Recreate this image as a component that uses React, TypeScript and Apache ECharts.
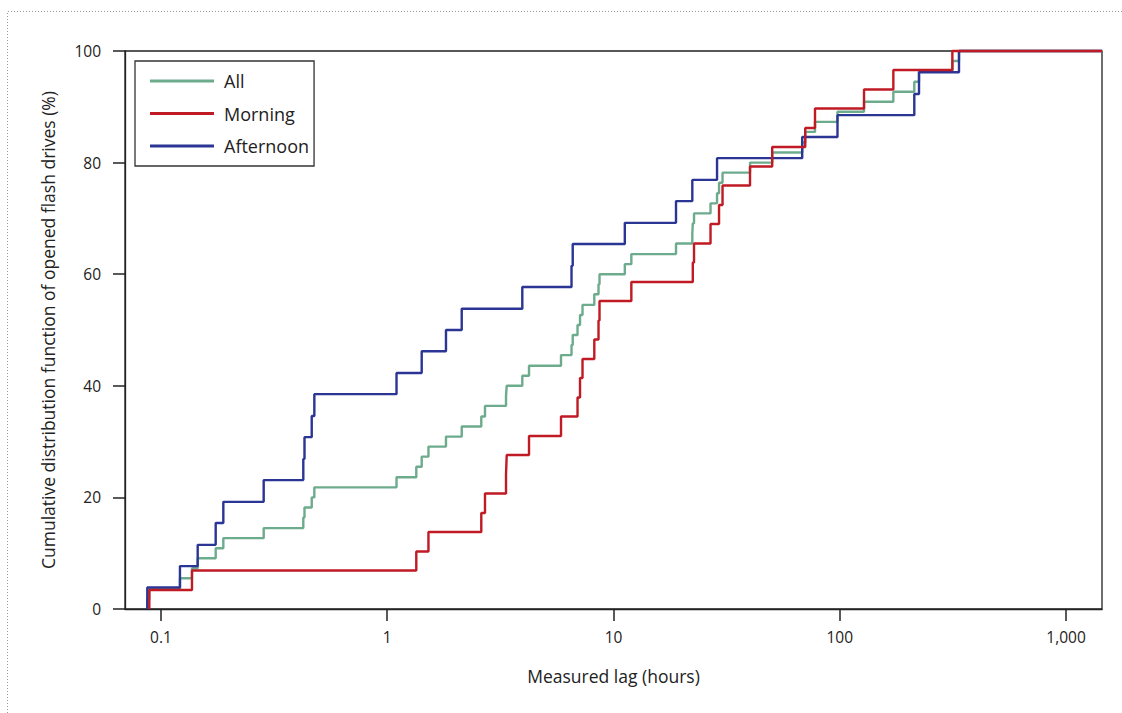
import React, { useEffect, useRef } from 'react';
import * as echarts from 'echarts';

// Axis ranges and ticks
const xMin = 0.06934;
const xMax = 1442;
const xTickValues = [0.1, 1, 10, 100, 1000];
const xTickLabels = ['0.1', '1', '10', '100', '1,000'];
const yTickValues = [0, 20, 40, 60, 80, 100];

const seriesNames = ['All', 'Morning', 'Afternoon'];

// Afternoon (blue): lag (hours) at each step and CDF (%) reached at that step
const afternoonX = [0.087, 0.1213, 0.1453, 0.1745, 0.1886, 0.2844, 0.4256, 0.4308, 0.4637, 0.4762, 1.099, 1.42, 1.818, 2.134, 3.953, 6.523, 6.603, 11.22, 18.89, 22.3, 28.68, 68.23, 97.7, 213.5, 224.0, 336.5];
const afternoonY = [3.85, 7.69, 11.5, 15.4, 19.2, 23.1, 26.9, 30.8, 34.6, 38.5, 42.3, 46.2, 50.0, 53.8, 57.7, 61.5, 65.4, 69.2, 73.1, 76.9, 80.8, 84.6, 88.5, 92.3, 96.2, 100];

// Morning (red)
const morningX = [0.0888, 0.1371, 1.344, 1.521, 2.604, 2.704, 3.349, 3.373, 4.232, 5.861, 6.934, 7.112, 7.295, 8.225, 8.585, 8.673, 11.99, 22.41, 22.69, 26.84, 29.27, 30.33, 40.12, 50.28, 70.37, 77.72, 128.0, 172.5, 314.5];
const morningY = [3.4, 6.9, 10.3, 13.8, 17.2, 20.7, 24.1, 27.6, 31.0, 34.5, 37.9, 41.4, 44.8, 48.3, 51.7, 55.2, 58.6, 62.1, 65.5, 69.0, 72.4, 75.9, 79.3, 82.8, 86.2, 89.7, 93.1, 96.6, 100];

// All (green)
const allX = [0.087, 0.0888, 0.1213, 0.1371, 0.1453, 0.1745, 0.1886, 0.2844, 0.4256, 0.4308, 0.4637, 0.4762, 1.099, 1.344, 1.42, 1.521, 1.818, 2.134, 2.604, 2.704, 3.349, 3.373, 3.953, 4.232, 5.861, 6.523, 6.603, 6.934, 7.112, 7.295, 8.225, 8.585, 8.673, 11.22, 11.99, 18.89, 22.3, 22.41, 22.69, 26.84, 28.68, 29.27, 30.33, 40.12, 50.28, 68.23, 70.37, 77.72, 97.7, 128.0, 172.5, 213.5, 224.0, 314.5, 336.5];
const allY = [1.8, 3.6, 5.5, 7.3, 9.1, 10.9, 12.7, 14.5, 16.4, 18.2, 20.0, 21.8, 23.6, 25.5, 27.3, 29.1, 30.9, 32.7, 34.5, 36.4, 38.2, 40.0, 41.8, 43.6, 45.5, 47.3, 49.1, 50.9, 52.7, 54.5, 56.4, 58.2, 60.0, 61.8, 63.6, 65.5, 67.3, 69.1, 70.9, 72.7, 74.5, 76.4, 78.2, 80.0, 81.8, 83.6, 85.5, 87.3, 89.1, 90.9, 92.7, 94.5, 96.4, 98.2, 100];

const colors = { All: '#6dab8d', Morning: '#c01a24', Afternoon: '#2b3594' };

function stepData(xs: number[], ys: number[]) {
  const pts: [number, number][] = [[xs[0], 0]];
  xs.forEach((x, i) => pts.push([x, ys[i]]));
  pts.push([xMax, ys[ys.length - 1]]);
  return pts;
}

const FONT = '"Open Sans", "DejaVu Sans", sans-serif';
const TEXT = '#222';

export default function App() {
  const ref = useRef<HTMLDivElement>(null);
  useEffect(() => {
    if (!ref.current) return;
    const chart = echarts.init(ref.current, null, { renderer: 'svg' });
    const mk = (name: string, xs: number[], ys: number[]) => ({
      name,
      type: 'line',
      step: 'end',
      showSymbol: false,
      symbol: 'none',
      data: stepData(xs, ys),
      lineStyle: { width: 2.4, color: (colors as any)[name] },
      itemStyle: { color: (colors as any)[name] },
      emphasis: { disabled: true },
      clip: false,
    });
    chart.setOption({
      animation: false,
      backgroundColor: '#ffffff',
      textStyle: { fontFamily: FONT },
      grid: {
        left: 125,
        right: 20,
        top: 51,
        bottom: 104,
        show: true,
        borderColor: '#222',
        borderWidth: 1.3,
        backgroundColor: 'transparent',
      },
      legend: {
        orient: 'vertical',
        left: 135,
        top: 61,
        data: seriesNames,
        icon: 'rect',
        itemWidth: 64,
        itemHeight: 3,
        itemGap: 12.5,
        padding: [10, 5, 10, 15],
        borderColor: '#333',
        borderWidth: 1.3,
        textStyle: { fontFamily: FONT, fontSize: 18, color: TEXT, lineHeight: 20, padding: [0, 0, 0, 5] },
      },
      xAxis: {
        type: 'log',
        logBase: 10,
        min: xMin,
        max: xMax,
        name: 'Measured lag (hours)',
        nameLocation: 'middle',
        nameGap: 58,
        nameTextStyle: { fontFamily: FONT, fontSize: 17.5, color: TEXT },
        axisLine: { show: true, lineStyle: { color: '#222', width: 1.3 } },
        axisTick: { show: true, length: 12, lineStyle: { color: '#222', width: 1.5 }, customValues: xTickValues },
        axisLabel: {
          customValues: xTickValues,
          margin: 20,
          fontFamily: FONT,
          fontSize: 15.5,
          color: TEXT,
          formatter: (v: number) => {
            const i = xTickValues.findIndex((t) => Math.abs(t - v) / t < 1e-6);
            return i >= 0 ? xTickLabels[i] : '';
          },
        },
        splitLine: { show: false },
      },
      yAxis: {
        type: 'value',
        min: 0,
        max: 100,
        interval: 20,
        name: 'Cumulative distribution function of opened flash drives (%)',
        nameLocation: 'middle',
        nameGap: 68,
        nameTextStyle: { fontFamily: FONT, fontSize: 17.5, color: TEXT },
        axisLine: { show: true, lineStyle: { color: '#222', width: 1.3 } },
        axisTick: { show: true, length: 12, lineStyle: { color: '#222', width: 1.5 } },
        axisLabel: {
          margin: 24,
          fontFamily: FONT,
          fontSize: 15.5,
          color: TEXT,
          formatter: (v: number) => (yTickValues.includes(v) ? String(v) : ''),
        },
        splitLine: { show: false },
      },
      graphic: [
        {
          type: 'polyline',
          silent: true,
          shape: { points: [[7.5, 713], [7.5, 11.5], [1122, 11.5]] },
          style: { stroke: '#999', lineWidth: 1, lineDash: [1, 2], fill: null },
        },
      ],
      series: [
        mk('All', allX, allY),
        mk('Afternoon', afternoonX, afternoonY),
        mk('Morning', morningX, morningY),
      ],
    });
    return () => chart.dispose();
  }, []);
  return (
    <div
      ref={ref}
      style={{ position: 'fixed', left: 0, top: 0, width: 1122, height: 713, background: '#fff' }}
    />
  );
}
